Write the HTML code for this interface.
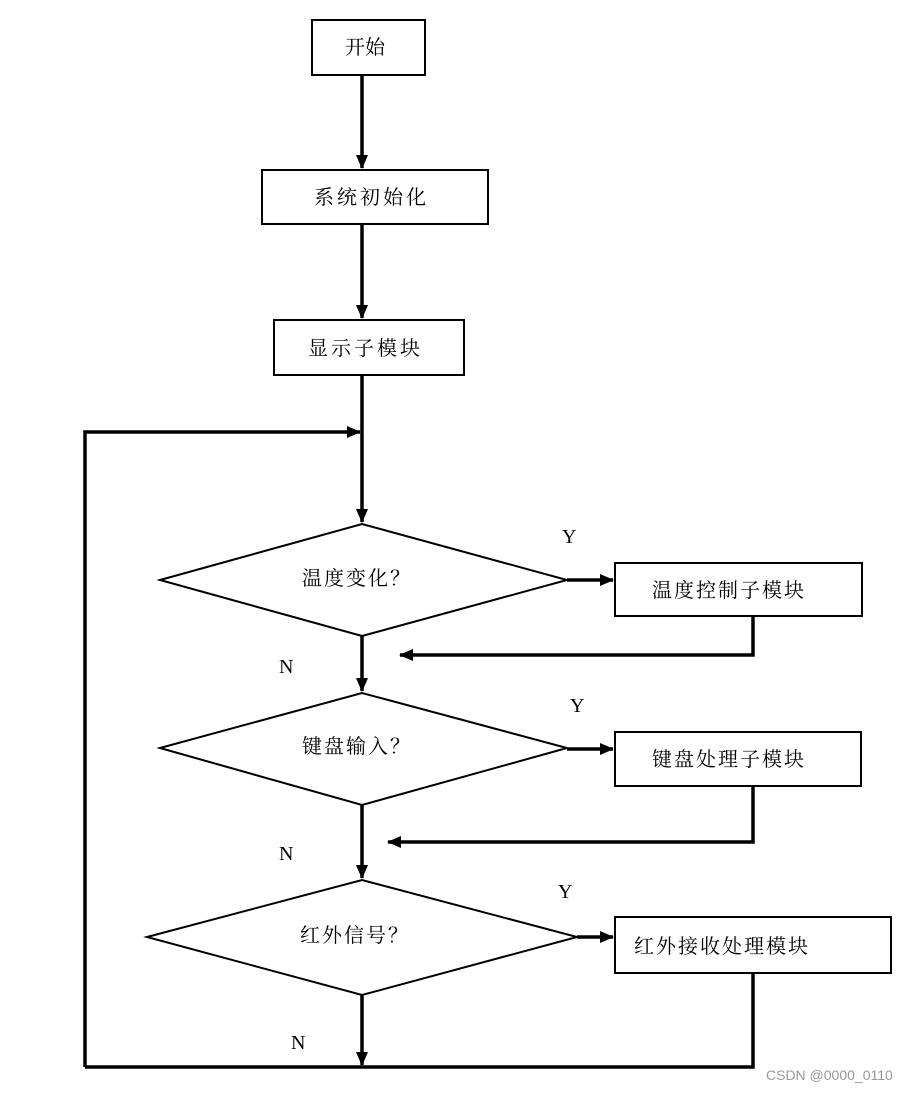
<!DOCTYPE html>
<html><head><meta charset="utf-8"><style>
body{margin:0;background:#fff;}
svg text{font-family:"Liberation Serif","Noto Serif CJK SC",serif;font-size:20px;fill:#000;}
</style></head><body>
<svg width="917" height="1091" viewBox="0 0 917 1091" xmlns="http://www.w3.org/2000/svg">
<defs><marker id="a" markerWidth="10" markerHeight="10" refX="9" refY="5" orient="auto" markerUnits="userSpaceOnUse"><path d="M0,0 L12,5 L0,10 z" fill="#000" transform="scale(0.9,1)"/></marker>
<marker id="b" markerWidth="14" markerHeight="12" refX="13" refY="6" orient="auto" markerUnits="userSpaceOnUse"><path d="M0,0 L14,6 L0,12 z" fill="#000"/></marker></defs>
<g fill="none" stroke="#000" stroke-width="2">
<rect x="312" y="20" width="113" height="55"/>
<rect x="262" y="170" width="226" height="54"/>
<rect x="274" y="320" width="190" height="55"/>
<rect x="615" y="563" width="247" height="53"/>
<rect x="615" y="732" width="246" height="54"/>
<rect x="615" y="917" width="276" height="56"/>
<polygon points="160,580 362,524 567,580 362,636"/>
<polygon points="160,748 362,693 567,748 362,805"/>
<polygon points="147,937 362,880 577,937 362,995"/>
</g>
<g fill="none" stroke="#000" stroke-width="3.5">
<line x1="362" y1="75" x2="362" y2="168" marker-end="url(#b)"/>
<line x1="362" y1="224" x2="362" y2="318" marker-end="url(#b)"/>
<line x1="362" y1="375" x2="362" y2="522" marker-end="url(#b)"/>
<polyline points="85,1067 85,432 360,432" marker-end="url(#b)"/>
<polyline points="85,1067 753,1067 753,973"/>
<line x1="362" y1="995" x2="362" y2="1065" marker-end="url(#b)"/>
<line x1="362" y1="636" x2="362" y2="691" marker-end="url(#b)"/>
<line x1="362" y1="805" x2="362" y2="878" marker-end="url(#b)"/>
<line x1="567" y1="580" x2="613" y2="580" marker-end="url(#b)"/>
<line x1="567" y1="749" x2="613" y2="749" marker-end="url(#b)"/>
<line x1="577" y1="937" x2="613" y2="937" marker-end="url(#b)"/>
<polyline points="753,616 753,655 400,655" marker-end="url(#b)"/>
<polyline points="753,786 753,842 388,842" marker-end="url(#b)"/>
</g>
<text x="345" y="54">开始</text>
<text x="314" y="204" letter-spacing="3">系统初始化</text>
<text x="308" y="355" letter-spacing="3">显示子模块</text>
<text x="302" y="585" letter-spacing="2">温度变化？</text>
<text x="302" y="753" letter-spacing="2">键盘输入？</text>
<text x="300" y="942" letter-spacing="2">红外信号？</text>
<text x="652" y="597" letter-spacing="2">温度控制子模块</text>
<text x="652" y="766" letter-spacing="2">键盘处理子模块</text>
<text x="634" y="953" letter-spacing="2">红外接收处理模块</text>
<text x="562" y="543">Y</text><text x="570" y="712">Y</text><text x="558" y="898">Y</text>
<text x="279" y="673">N</text><text x="279" y="860">N</text><text x="291" y="1049">N</text>
<text x="766" y="1080" style="font-family:'Liberation Sans',sans-serif;font-size:14px;fill:#999">CSDN @0000_0110</text>
</svg>
</body></html>
